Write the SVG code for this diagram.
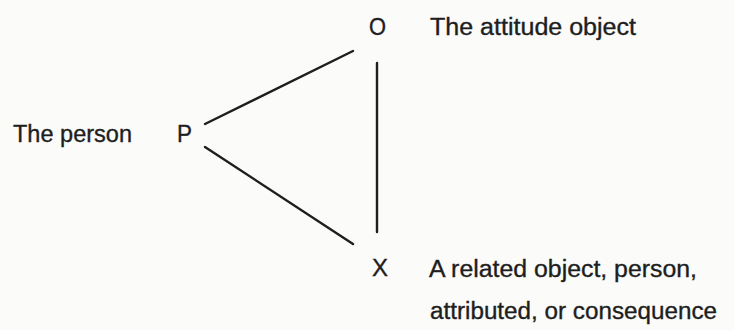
<svg xmlns="http://www.w3.org/2000/svg" width="734" height="330" viewBox="0 0 734 330">
  <style>
    .t { font-family: "Liberation Sans", Arial, sans-serif; font-size: 23px; fill: #1e1e1e; stroke: #1e1e1e; stroke-width: 0.35; }
    .c { stroke: #1e1e1e; stroke-width: 2.4; stroke-linecap: round; fill: none; }
  </style>
  <rect width="734" height="330" fill="#fbfbfa"/>
  <g id="connectors">
    <line class="c" x1="205" y1="124" x2="353" y2="51"/>
    <line class="c" x1="205" y1="147" x2="353" y2="244"/>
    <line class="c" x1="377" y1="63" x2="377" y2="232"/>
  </g>
  <g id="node-O">
    <text class="t" x="369" y="35" textLength="17" lengthAdjust="spacingAndGlyphs">O</text>
    <text class="t" x="430" y="35" textLength="206" lengthAdjust="spacingAndGlyphs">The attitude object</text>
  </g>
  <g id="node-P">
    <text class="t" x="13" y="142" textLength="119" lengthAdjust="spacingAndGlyphs">The person</text>
    <text class="t" x="177" y="142" textLength="15" lengthAdjust="spacingAndGlyphs">P</text>
  </g>
  <g id="node-X">
    <text class="t" x="372" y="276" textLength="16" lengthAdjust="spacingAndGlyphs">X</text>
    <text class="t" x="429" y="277" textLength="268" lengthAdjust="spacingAndGlyphs">A related object, person,</text>
    <text class="t" x="430" y="319" textLength="287" lengthAdjust="spacingAndGlyphs">attributed, or consequence</text>
  </g>
</svg>
